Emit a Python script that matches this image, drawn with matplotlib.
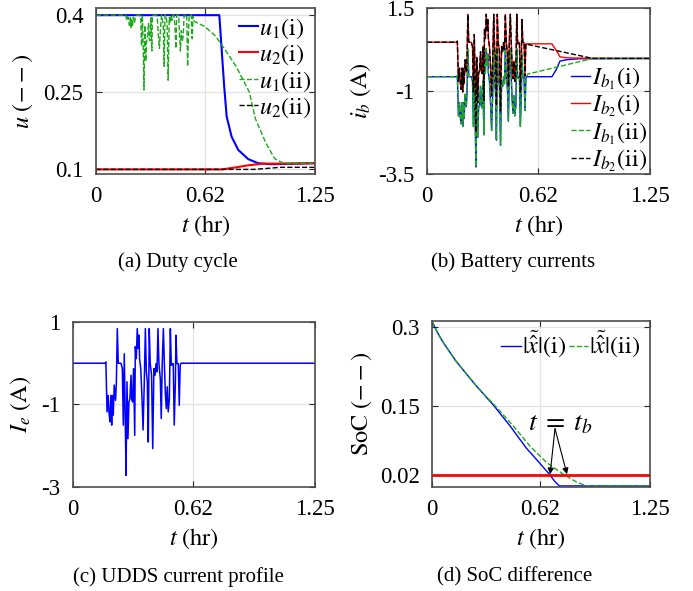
import numpy as np
import matplotlib
matplotlib.use("Agg")
import matplotlib.pyplot as plt

plt.rcParams["font.family"] = "serif"
plt.rcParams["font.serif"] = ["Liberation Serif", "DejaVu Serif"]
plt.rcParams["mathtext.fontset"] = "stix"
plt.rcParams["axes.unicode_minus"] = False

# ---- data ----
# drive cycle time grid (hr)
t_cycle = [0, 0.165, 0.170, 0.176, 0.182, 0.186, 0.191, 0.196, 0.200, 0.203,
           0.208, 0.213, 0.220, 0.224, 0.229, 0.234, 0.248, 0.255, 0.260, 0.265,
           0.270, 0.274, 0.279, 0.284, 0.289, 0.294, 0.300, 0.303, 0.308, 0.313,
           0.319, 0.322, 0.327, 0.332, 0.337, 0.341, 0.344, 0.350, 0.356, 0.362,
           0.368, 0.374, 0.379, 0.384, 0.389, 0.394, 0.399, 0.406, 0.412, 0.418,
           0.424, 0.429, 0.434, 0.439, 0.444, 0.451, 0.456, 0.461, 0.467, 0.472,
           0.477, 0.482, 0.487, 0.492, 0.498, 0.503, 0.508, 0.513, 0.518, 0.523,
           0.529, 0.532, 0.537, 0.544, 0.549, 0.554, 0.558]

# (c) UDDS current profile
ie_cycle = [0, 0, 0.03, -1.18, -0.78, -1.18, -1.42, -0.78, -1.50, -0.78,
            -1.26, -0.53, -0.90, -0.49, 0.84, 0, 0, -0.13, -1.50, 0.23,
            -1.34, -2.72, -0.45, -1.83, -0.94, -0.86, -0.29, -0.86, -0.94, -0.13,
            -1.75, 0.40, 0.11, 0.84, 0.36, 0.68, 0.11, -0.13, -0.78, -1.62,
            -0.53, 0.84, -0.21, -0.45, -1.91, 0.84, -0.01, -0.29, -2.07, -0.13,
            -0.29, -0.01, -0.21, 0.84, 0, -0.37, -1.34, 0, 0.84, -0.01,
            -0.70, -1.10, -0.57, -1.18, -0.86, 0.84, -0.05, -0.01, -0.01, -1.50,
            -0.45, 0.68, -0.01, -0.01, -1.02, -0.05, 0]
t_ie_end = [1.25]
ie_end = [0]

# (b) battery currents during the cycle
ib1_cycle = [-0.57, -0.57, -0.54, -1.75, -1.35, -1.75, -1.99, -1.35, -2.07, -1.35,
             -1.83, -1.10, -1.47, -1.06, 0.27, -0.57, -0.57, -0.70, -2.07, -0.34,
             -1.91, -3.29, -1.02, -2.40, -1.51, -1.43, -0.86, -1.43, -1.51, -0.70,
             -2.32, -0.17, -0.46, 0.27, -0.21, 0.11, -0.46, -0.70, -1.35, -2.19,
             -1.10, 0.27, -0.78, -1.02, -2.48, 0.27, -0.58, -0.86, -2.64, -0.70,
             -0.86, -0.58, -0.78, 0.27, -0.57, -0.94, -1.91, -0.57, 0.27, -0.58,
             -1.27, -1.67, -1.14, -1.75, -1.43, 0.27, -0.62, -0.58, -0.58, -2.07,
             -1.02, 0.11, -0.58, -0.58, -1.59, -0.62, -0.57]
ib2_cycle = [0.47, 0.47, 0.50, -0.71, -0.31, -0.71, -0.95, -0.31, -1.03, -0.31,
             -0.79, -0.06, -0.43, -0.02, 1.31, 0.47, 0.47, 0.34, -1.03, 0.70,
             -0.87, -2.25, 0.02, -1.36, -0.47, -0.39, 0.18, -0.39, -0.47, 0.34,
             -1.28, 0.87, 0.58, 1.31, 0.83, 1.15, 0.58, 0.34, -0.31, -1.15,
             -0.06, 1.31, 0.26, 0.02, -1.44, 1.31, 0.46, 0.18, -1.60, 0.34,
             0.18, 0.46, 0.26, 1.31, 0.47, 0.10, -0.87, 0.47, 1.31, 0.46,
             -0.23, -0.63, -0.10, -0.71, -0.39, 1.31, 0.42, 0.46, 0.46, -1.03,
             0.02, 1.15, 0.46, 0.46, -0.55, 0.42, 0.42]
t_tail_i = [0.70, 0.725, 0.745, 0.78, 0.85, 1.25]
ib1_tail_i = [-0.57, -0.35, -0.10, -0.06, -0.03, -0.02]
ib2_tail_i = [0.42, 0.22, 0.03, 0.0, -0.01, -0.02]
t_tail_ii = [0.565, 0.93, 1.25]
ib1_tail_ii = [-0.49, -0.02, -0.02]
ib2_tail_ii = [0.40, -0.02, -0.02]

# (a) duty cycles
t_u1_i = [0, 0.704, 0.732, 0.746, 0.774, 0.812, 0.869, 0.926, 1.0, 1.25]
u1_i = [0.4, 0.4, 0.26, 0.202, 0.163, 0.137, 0.119, 0.111, 0.109, 0.111]
t_u2_i = [0, 0.72, 0.80, 0.87, 0.95, 1.25]
u2_i = [0.099, 0.099, 0.103, 0.107, 0.110, 0.111]
u1_ii_cycle = [0.4, 0.4, 0.4, 0.39, 0.397, 0.39, 0.38, 0.395, 0.374, 0.392,
               0.38, 0.396, 0.385, 0.395, 0.4, 0.4, 0.4, 0.398, 0.34, 0.4,
               0.33, 0.254, 0.38, 0.31, 0.35, 0.355, 0.385, 0.355, 0.35, 0.395,
               0.33, 0.4, 0.4, 0.4, 0.4, 0.4, 0.4, 0.395, 0.36, 0.335,
               0.372, 0.4, 0.39, 0.378, 0.30, 0.4, 0.4, 0.385, 0.273, 0.395,
               0.385, 0.4, 0.39, 0.4, 0.4, 0.38, 0.335, 0.4, 0.4, 0.4,
               0.36, 0.33, 0.37, 0.348, 0.36, 0.4, 0.398, 0.4, 0.4, 0.30,
               0.375, 0.4, 0.4, 0.4, 0.354, 0.398, 0.39]
t_u1_ii_tail = [0.565, 0.62, 0.68, 0.73, 0.80, 0.845, 0.875, 0.91, 0.97, 1.02, 1.07, 1.25]
u1_ii_tail = [0.387, 0.378, 0.36, 0.336, 0.30, 0.27, 0.25, 0.198, 0.15, 0.12, 0.111, 0.111]
t_u2_ii = [0, 0.90, 0.98, 1.05, 1.25]
u2_ii = [0.099, 0.099, 0.101, 0.103, 0.103]

# (d) SoC difference
t_soc_i = [0, 0.03, 0.061, 0.138, 0.25, 0.348, 0.45, 0.539, 0.62, 0.673, 0.705, 0.73, 1.25]
soc_i = [0.31, 0.29, 0.272, 0.235, 0.19, 0.154, 0.112, 0.072, 0.042, 0.022, 0.008, 0.0, 0.0]
t_soc_ii = [0, 0.03, 0.061, 0.138, 0.25, 0.30, 0.348, 0.466, 0.562, 0.657, 0.753, 0.83, 0.887, 1.25]
soc_ii = [0.31, 0.29, 0.272, 0.235, 0.19, 0.172, 0.156, 0.113, 0.075, 0.044, 0.022, 0.007, 0.0, 0.0]
soc_threshold = 0.02
t_b = [0.677, 0.774]

xticks = [0, 0.62, 1.25]
xticklabels = ["0", "0.62", "1.25"]

GREEN = "#1aaa1a"
FRAME = "#4d4d4d"
FS = 16.5     # tick labels
LFS = 17.5    # axis labels / legends
CFS = 15      # captions


def style(ax, yticks, ylabels, ylim):
    ax.set_xlim(0, 1.25)
    ax.set_ylim(*ylim)
    ax.set_xticks(xticks)
    ax.set_xticklabels(xticklabels)
    ax.set_yticks(yticks)
    ax.set_yticklabels(ylabels)
    ax.grid(True, color="#e3e3e3", lw=0.9)
    ax.set_axisbelow(True)
    ax.tick_params(direction="in", length=4, width=0.8, top=True, right=True,
                   labelsize=FS, color="#262626", pad=9)
    for s in ax.spines.values():
        s.set_color(FRAME)
        s.set_linewidth(1.2)
    ax.set_xlabel("$t\\ (\\mathrm{hr})$", fontsize=LFS, labelpad=4)


fig = plt.figure(figsize=(6.93, 5.91), dpi=100)

# (a) Duty cycle
ax = fig.add_axes([0.1385, 0.7056, 0.316, 0.2809])
ax.plot(t_u1_i, u1_i, color="blue", lw=1.5, label="$u_1(\\mathrm{i})$")
ax.plot(t_u2_i, u2_i, color="red", lw=1.5, label="$u_2(\\mathrm{i})$")
ax.plot(t_cycle + t_u1_ii_tail, u1_ii_cycle + u1_ii_tail, color=GREEN, lw=1.0,
        ls="--", label="$u_1(\\mathrm{ii})$")
ax.plot(t_u2_ii, u2_ii, color="black", lw=1.0, ls="--", label="$u_2(\\mathrm{ii})$")
style(ax, [0.1, 0.25, 0.4], ["0.1", "0.25", "0.4"], (0.09, 0.414))
ax.set_ylabel("$u\\ (--)$", fontsize=LFS, labelpad=6)
ax.legend(loc="upper right", bbox_to_anchor=(0.985, 0.95), frameon=False, fontsize=LFS,
          handlelength=0.8, handletextpad=0.05, labelspacing=0.08, borderpad=0,
          borderaxespad=0)

# (b) Battery currents
ax = fig.add_axes([0.6162, 0.7056, 0.3218, 0.2809])
ax.plot(t_cycle + t_tail_i, ib1_cycle + ib1_tail_i, color="blue", lw=1.0,
        label="$I_{b_1}(\\mathrm{i})$")
ax.plot(t_cycle + t_tail_i, ib2_cycle + ib2_tail_i, color="red", lw=1.0,
        label="$I_{b_2}(\\mathrm{i})$")
ax.plot(t_cycle + t_tail_ii, ib1_cycle + ib1_tail_ii, color=GREEN, lw=1.0, ls="--",
        label="$I_{b_1}(\\mathrm{ii})$")
ax.plot(t_cycle + t_tail_ii, ib2_cycle + ib2_tail_ii, color="black", lw=1.0, ls="--",
        label="$I_{b_2}(\\mathrm{ii})$")
style(ax, [-3.5, -1, 1.5], ["-3.5", "-1", "1.5"], (-3.5, 1.5))
ax.set_ylabel("$i_b\\ (\\mathrm{A})$", fontsize=LFS, labelpad=4)
ax.legend(loc="upper right", bbox_to_anchor=(0.985, 0.655), frameon=False, fontsize=LFS,
          handlelength=0.8, handletextpad=0.05, labelspacing=0.03, borderpad=0,
          borderaxespad=0)

# (c) UDDS current profile
ax = fig.add_axes([0.1053, 0.176, 0.3492, 0.2792])
ax.plot(t_cycle + t_ie_end, ie_cycle + ie_end, color="blue", lw=1.1)
style(ax, [-3, -1, 1], ["-3", "-1", "1"], (-3, 1))
ax.set_ylabel("$I_e\\ (\\mathrm{A})$", fontsize=LFS, labelpad=6)

# (d) SoC difference
ax = fig.add_axes([0.6234, 0.176, 0.3146, 0.2809])
ax.plot(t_soc_i, soc_i, color="blue", lw=1.0, label="$|\\tilde{\\hat{x}}|(\\mathrm{i})$")
ax.plot(t_soc_ii, soc_ii, color=GREEN, lw=1.0, ls="--",
        label="$|\\tilde{\\hat{x}}|(\\mathrm{ii})$")
ax.axhline(soc_threshold, color="red", lw=2.0)
style(ax, [0.02, 0.15, 0.3], ["0.02", "0.15", "0.3"], (-0.002, 0.311))
ax.set_ylabel("$\\mathrm{SoC}\\ (--)$", fontsize=LFS, labelpad=4)
ax.legend(loc="upper right", bbox_to_anchor=(0.955, 0.95), frameon=False, fontsize=LFS,
          ncol=2, handlelength=0.8, handletextpad=0.05, columnspacing=0.1,
          borderpad=0, borderaxespad=0)
ax.text(0.734, 0.104, "$t\\;=\\;t_b$", fontsize=20, ha="center", va="baseline")
for tb in t_b:
    ax.annotate("", xy=(tb, soc_threshold + 0.002), xytext=(0.705, 0.108),
                arrowprops=dict(arrowstyle="-|>", color="black", lw=0.8,
                                mutation_scale=9, shrinkA=0, shrinkB=0))

# captions
fig.text(0.257, 0.557, "(a) Duty cycle", ha="center", va="center", fontsize=CFS)
fig.text(0.740, 0.557, "(b) Battery currents", ha="center", va="center", fontsize=CFS)
fig.text(0.257, 0.024, "(c) UDDS current profile", ha="center", va="center", fontsize=CFS)
fig.text(0.742, 0.024, "(d) SoC difference", ha="center", va="center", fontsize=CFS)

fig.savefig("out.png", dpi=100)
